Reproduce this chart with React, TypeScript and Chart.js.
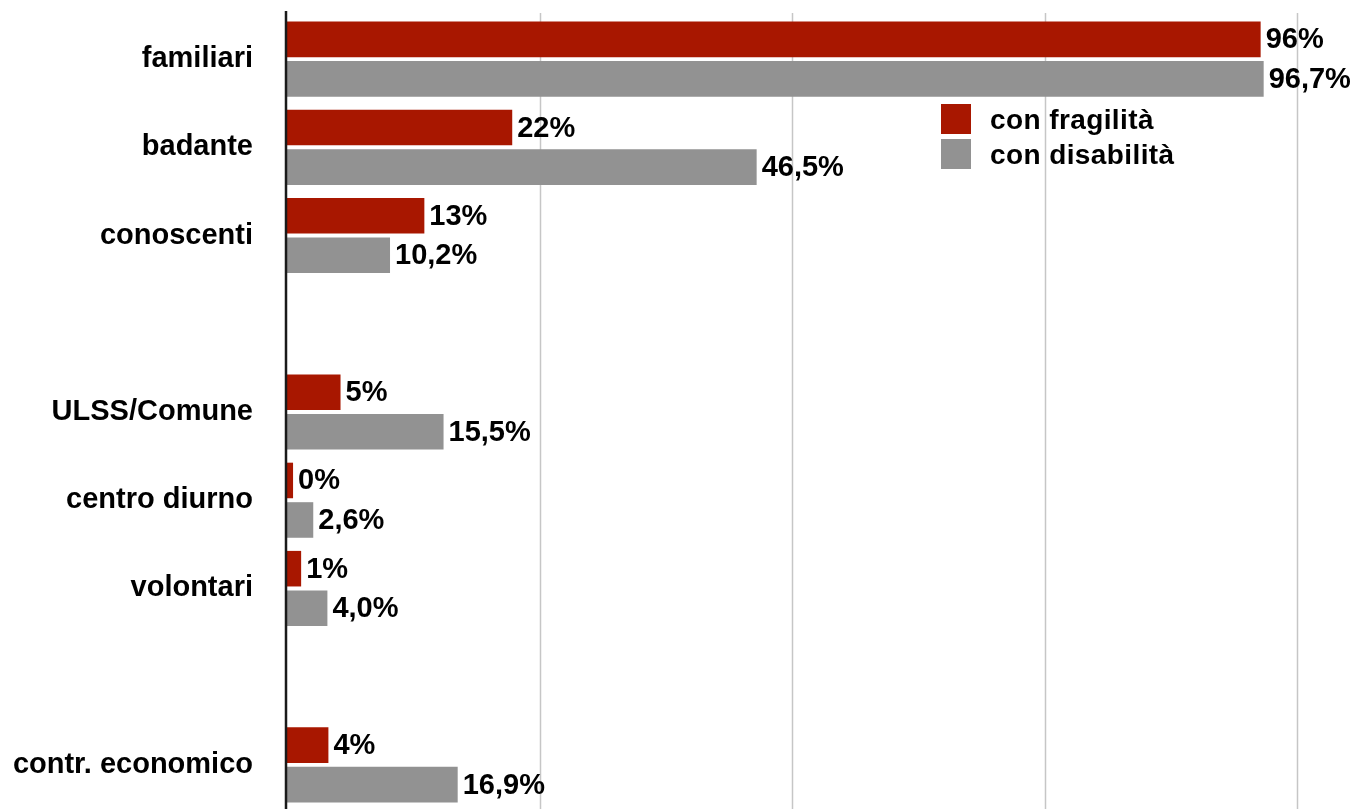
import React, { useEffect, useRef } from "react";
import { Chart, registerables } from "chart.js";

Chart.register(...registerables);

const categories = [
  "familiari",
  "badante",
  "conoscenti",
  "",
  "ULSS/Comune",
  "centro diurno",
  "volontari",
  "",
  "contr. economico",
];

const seriesNames = ["con fragilità", "con disabilità"];
const seriesColors = ["#A81700", "#929292"];

const fragilitaValues = [96.4, 22.3, 13.6, null, 5.3, 0.6, 1.4, null, 4.1];
const fragilitaLabels = ["96%", "22%", "13%", "", "5%", "0%", "1%", "", "4%"];

const disabilitaValues = [96.7, 46.5, 10.2, null, 15.5, 2.6, 4.0, null, 16.9];
const disabilitaLabels = ["96,7%", "46,5%", "10,2%", "", "15,5%", "2,6%", "4,0%", "", "16,9%"];

const gridValues = [25, 50, 75, 100];

const FONT = "'Liberation Sans', Arial, Helvetica, sans-serif";

export default function App() {
  const canvasRef = useRef<HTMLCanvasElement | null>(null);

  useEffect(() => {
    const canvas = canvasRef.current;
    if (!canvas) return;

    const valueLabels = [fragilitaLabels, disabilitaLabels];

    const gridPlugin = {
      id: "customGrid",
      beforeDatasetsDraw(chart: any) {
        const ctx = chart.ctx;
        const xs = chart.scales.x;
        const area = chart.chartArea;
        ctx.save();
        ctx.strokeStyle = "#c6c6c6";
        ctx.lineWidth = 1.5;
        gridValues.forEach((v) => {
          const x = Math.round(xs.getPixelForValue(v)) + 0.5;
          ctx.beginPath();
          ctx.moveTo(x, area.top - 2);
          ctx.lineTo(x, chart.height);
          ctx.stroke();
        });
        ctx.restore();
      },
      afterDatasetsDraw(chart: any) {
        const ctx = chart.ctx;
        const area = chart.chartArea;
        ctx.save();
        ctx.strokeStyle = "#1a1a1a";
        ctx.lineWidth = 2.5;
        ctx.beginPath();
        ctx.moveTo(area.left - 1, area.top - 4);
        ctx.lineTo(area.left - 1, chart.height);
        ctx.stroke();
        ctx.restore();
      },
    };

    const valueLabelPlugin = {
      id: "valueLabels",
      afterDatasetsDraw(chart: any) {
        const ctx = chart.ctx;
        ctx.save();
        ctx.font = `bold 29px ${FONT}`;
        ctx.fillStyle = "#000";
        ctx.textAlign = "left";
        ctx.textBaseline = "middle";
        chart.data.datasets.forEach((_ds: any, i: number) => {
          const meta = chart.getDatasetMeta(i);
          meta.data.forEach((bar: any, j: number) => {
            const label = valueLabels[i][j];
            if (!label) return;
            ctx.fillText(label, bar.x + 5, bar.y + 1);
          });
        });
        ctx.restore();
      },
    };

    const legendPlugin = {
      id: "customLegend",
      afterDraw(chart: any) {
        const ctx = chart.ctx;
        ctx.save();
        ctx.font = `bold 28px ${FONT}`;
        (ctx as any).letterSpacing = "0.4px";
        ctx.textAlign = "left";
        ctx.textBaseline = "alphabetic";
        seriesNames.forEach((name, i) => {
          const top = 104 + i * 35;
          ctx.fillStyle = seriesColors[i];
          ctx.fillRect(941, top, 30, 30);
          ctx.fillStyle = "#000";
          ctx.fillText(name, 990, top + 25);
        });
        ctx.restore();
      },
    };

    const chart = new Chart(canvas, {
      type: "bar",
      data: {
        labels: categories,
        datasets: [
          {
            label: seriesNames[0],
            data: fragilitaValues as any,
            backgroundColor: seriesColors[0],
            borderWidth: 0,
            barPercentage: 0.9,
            categoryPercentage: 0.896,
          },
          {
            label: seriesNames[1],
            data: disabilitaValues as any,
            backgroundColor: seriesColors[1],
            borderWidth: 0,
            barPercentage: 0.9,
            categoryPercentage: 0.896,
          },
        ],
      },
      options: {
        indexAxis: "y",
        responsive: false,
        animation: false,
        devicePixelRatio: 1,
        layout: { padding: { top: 15, right: 62, bottom: -1, left: 0 } },
        plugins: {
          legend: { display: false },
          tooltip: { enabled: false },
          title: { display: false },
        },
        scales: {
          x: {
            display: false,
            min: 0,
            max: 100,
          },
          y: {
            type: "category",
            offset: true,
            grid: {
              display: true,
              drawOnChartArea: false,
              drawTicks: true,
              tickLength: 34,
              tickColor: "rgba(0,0,0,0)",
            },
            border: { display: false },
            ticks: {
              autoSkip: false,
              color: "#000",
              padding: 0,
              font: { family: FONT, size: 29, weight: "bold", lineHeight: 1 },
            },
            afterFit: (scale: any) => {
              scale.width = 287;
              scale.paddingTop = 0;
              scale.paddingBottom = 0;
            },
          },
        },
      },
      plugins: [gridPlugin, valueLabelPlugin, legendPlugin],
    });

    return () => {
      chart.destroy();
    };
  }, []);

  return (
    <div style={{ position: "absolute", left: 0, top: 0, width: 1359, height: 809, background: "#fff" }}>
      <canvas ref={canvasRef} width={1359} height={809} style={{ display: "block" }} />
    </div>
  );
}
